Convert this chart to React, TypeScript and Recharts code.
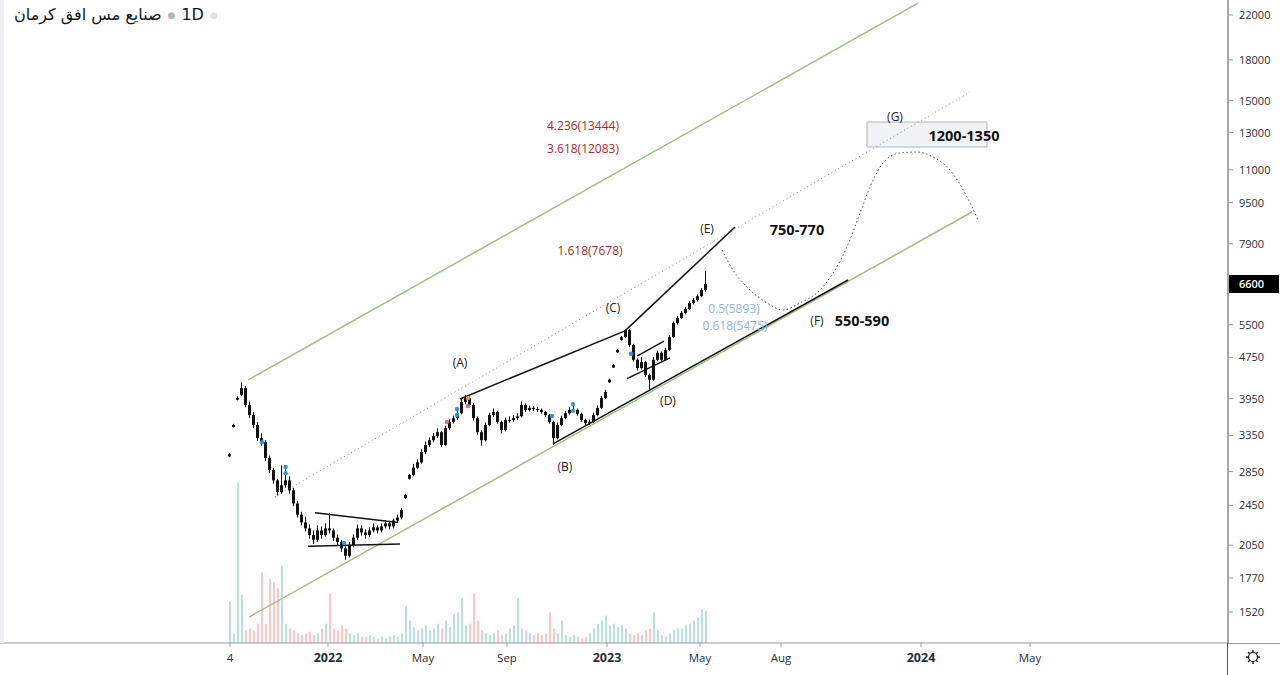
import React from 'react';
import {
  Bar,
  ComposedChart,
  Line,
  ReferenceArea,
  ReferenceDot,
  ReferenceLine,
  XAxis,
  YAxis,
} from 'recharts';

// daily-ish candles, one slot per candle (slot 0 = Oct 4 2021)
const opens = [
  3050, 3480, 3930, 4020, 4140, 3840, 3670, 3510, 3310, 3250, 3030, 2870, 2740, 2600, 2680, 2740, 2620, 2470, 2350, 2270,
  2210, 2145, 2100, 2190, 2145, 2210, 2190, 2120, 2080, 2020, 1955, 2050, 2120, 2210, 2170, 2145, 2190, 2220, 2190, 2230,
  2260, 2230, 2290, 2320, 2530, 2760, 2806, 2900, 2970, 3110, 3210, 3280, 3340, 3400, 3210, 3460, 3560, 3620, 3700, 3890,
  3960, 3840, 3620, 3400, 3280, 3510, 3670, 3720, 3560, 3430, 3590, 3590, 3620, 3650, 3840, 3755, 3790, 3770, 3755, 3720,
  3670, 3560, 3310, 3510, 3620, 3700, 3755, 3755, 3690, 3590, 3540, 3560, 3670, 3790, 3960, 4250, 4540, 4860, 5140, 5200,
  5370, 5020, 4700, 4530, 4650, 4390, 4300, 4700, 4850, 4700, 4910, 5200, 5540, 5670, 5800, 5900, 6060, 6140, 6250, 6420,
];
const highs = [
  3100, 3530, 3990, 4250, 4180, 3900, 3720, 3560, 3380, 3280, 3060, 2900, 2760, 2930, 2880, 2790, 2650, 2500, 2380, 2330,
  2250, 2190, 2240, 2230, 2260, 2370, 2210, 2150, 2100, 2040, 2080, 2150, 2250, 2240, 2200, 2220, 2260, 2240, 2260, 2290,
  2280, 2310, 2350, 2420, 2580, 2820, 2950, 3010, 3150, 3260, 3320, 3390, 3460, 3420, 3500, 3600, 3660, 3740, 3940, 4020,
  3990, 3870, 3650, 3430, 3550, 3710, 3780, 3740, 3580, 3630, 3650, 3670, 3700, 3900, 3870, 3830, 3820, 3800, 3780, 3740,
  3690, 3580, 3550, 3660, 3740, 3800, 3880, 3780, 3710, 3610, 3600, 3710, 3830, 4000, 4110, 4320, 4610, 4930, 5230, 5400,
  5390, 5050, 4730, 4760, 4680, 4420, 4760, 4900, 4880, 4960, 5250, 5580, 5720, 5850, 5960, 6110, 6200, 6300, 6480, 7000,
];
const lows = [
  3040, 3470, 3920, 4000, 3800, 3620, 3460, 3270, 3200, 2990, 2830, 2700, 2560, 2580, 2650, 2580, 2440, 2320, 2240, 2180,
  2110, 2060, 2080, 2110, 2130, 2160, 2090, 2050, 1990, 1920, 1940, 2030, 2100, 2140, 2110, 2130, 2170, 2160, 2170, 2210,
  2200, 2210, 2270, 2300, 2520, 2750, 2790, 2880, 2950, 3080, 3180, 3250, 3310, 3180, 3200, 3430, 3530, 3590, 3680, 3850,
  3800, 3580, 3360, 3200, 3260, 3490, 3640, 3530, 3380, 3410, 3550, 3560, 3590, 3630, 3720, 3730, 3740, 3720, 3690, 3640,
  3530, 3210, 3290, 3490, 3600, 3680, 3720, 3660, 3560, 3500, 3510, 3540, 3650, 3770, 3940, 4240, 4530, 4850, 5120, 5180,
  4980, 4660, 4480, 4500, 4350, 4120, 4280, 4670, 4660, 4680, 4890, 5180, 5500, 5640, 5760, 5870, 6020, 6100, 6220, 6380,
];
const closes = [
  3080, 3510, 3960, 4140, 3840, 3670, 3510, 3310, 3250, 3030, 2870, 2740, 2600, 2680, 2740, 2620, 2470, 2350, 2270, 2210,
  2145, 2100, 2190, 2145, 2210, 2190, 2120, 2080, 2020, 1955, 2050, 2120, 2210, 2170, 2145, 2190, 2220, 2190, 2230, 2260,
  2230, 2290, 2320, 2400, 2565, 2806, 2900, 2970, 3110, 3210, 3280, 3340, 3400, 3210, 3460, 3560, 3620, 3700, 3890, 3960,
  3840, 3620, 3400, 3280, 3510, 3670, 3720, 3560, 3430, 3590, 3590, 3620, 3650, 3840, 3755, 3790, 3770, 3755, 3720, 3670,
  3560, 3310, 3510, 3620, 3700, 3755, 3755, 3690, 3590, 3540, 3560, 3670, 3790, 3960, 4070, 4300, 4590, 4910, 5200, 5370,
  5020, 4700, 4530, 4650, 4390, 4300, 4700, 4850, 4700, 4910, 5200, 5540, 5670, 5800, 5900, 6060, 6140, 6250, 6420, 6600,
];
const volumes = [
  26, 6, 100, 30, 8, 9, 8, 12, 44, 12, 40, 38, 34, 48, 12, 9, 8, 6, 5, 6,
  7, 5, 6, 9, 12, 31, 9, 8, 11, 9, 6, 5, 6, 4, 4, 5, 4, 3, 4, 3,
  4, 5, 4, 6, 23, 14, 10, 8, 9, 11, 8, 9, 12, 9, 14, 10, 18, 19, 28, 11,
  12, 31, 14, 8, 6, 5, 6, 8, 5, 6, 9, 11, 28, 9, 8, 6, 5, 6, 5, 6,
  19, 9, 6, 14, 5, 4, 5, 4, 3, 4, 6, 9, 12, 14, 17, 11, 12, 10, 11, 9,
  6, 5, 6, 5, 8, 9, 19, 8, 5, 4, 6, 8, 9, 9, 11, 12, 14, 16, 21, 20,
];

const priceTicks = [1520, 1770, 2050, 2450, 2850, 3350, 3950, 4750, 5500, 6600, 7900, 9500, 11000, 13000, 15000, 18000, 22000];
const lastPrice = 6600;

const timeTickPos = [0, 24.5, 48.25, 69.25, 94.25, 117.5, 137.75, 172.75, 200];
const timeTickLabels = ['4', '2022', 'May', 'Sep', '2023', 'May', 'Aug', '2024', 'May'];

// projected path after (E): down to (F), up to (G), then down
const pathSlots = [123, 125.75, 130, 134.25, 138.25, 142.5, 147.5, 150.75, 154.25, 157.5, 160, 163.25, 167.5, 171.75, 175.75, 180, 184.25, 187];
const pathPrices = [7685, 7026, 6424, 6062, 5874, 6062, 6424, 6932, 7788, 9066, 10187, 11343, 11862, 11915, 11651, 10991, 9742, 8789];

const fibLevels = [
  { s: 88.25, p: 13385, text: '4.236(13444)', color: '#b42a2a' },
  { s: 88.25, p: 12074, text: '3.618(12083)', color: '#b42a2a' },
  { s: 90, p: 7650, text: '1.618(7678)', color: '#b42a2a' },
  { s: 126, p: 5901, text: '0.5(5893)', color: '#93b6dc' },
  { s: 126.25, p: 5469, text: '0.618(5475)', color: '#93b6dc' },
];
const waveLabels = [
  { s: 57.5, p: 4633, text: '(A)' },
  { s: 83.75, p: 2910, text: '(B)' },
  { s: 95.75, p: 5927, text: '(C)' },
  { s: 109.5, p: 3907, text: '(D)' },
  { s: 119.25, p: 8442, text: '(E)' },
  { s: 146.75, p: 5592, text: '(F)' },
  { s: 166.25, p: 13937, text: '(G)' },
];
const targetLabels = [
  { s: 141.75, p: 8404, text: '750-770' },
  { s: 158, p: 5592, text: '550-590' },
  { s: 183.5, p: 12800, text: '1200-1350' },
];
const markers = [
  { s: 8, p: 3250, color: '#2f95e0' },
  { s: 13.9, p: 2910, color: '#2f95e0' },
  { s: 13.9, p: 2830, color: '#2f95e0' },
  { s: 28.5, p: 2070, color: '#2f95e0' },
  { s: 54.25, p: 3560, color: '#e07070' },
  { s: 56.75, p: 3770, color: '#2f95e0' },
  { s: 56.75, p: 3672, color: '#2f95e0' },
  { s: 59.5, p: 3960, color: '#f0a030' },
  { s: 59.5, p: 3820, color: '#e07070' },
  { s: 80.5, p: 3655, color: '#2f95e0' },
  { s: 85.75, p: 3855, color: '#2f95e0' },
  { s: 85.75, p: 3740, color: '#2f95e0' },
  { s: 100.25, p: 4830, color: '#2f95e0' },
];

type Seg = { x1: number; y1: number; x2: number; y2: number };
const channelLines: Seg[] = [
  { x1: 4.5, y1: 4295, x2: 172, y2: 23200 },
  { x1: 4.75, y1: 1486, x2: 185.5, y2: 9110 },
];
const midLine: Seg = { x1: 11.25, y1: 2543, x2: 185, y2: 15585 };
const trendLines: Seg[] = [
  { x1: 57.5, y1: 3945, x2: 98.75, y2: 5350 },
  { x1: 98.75, y1: 5350, x2: 126.25, y2: 8515 },
  { x1: 80.75, y1: 3225, x2: 154.5, y2: 6718 },
  { x1: 21.25, y1: 2370, x2: 42, y2: 2270 },
  { x1: 19.5, y1: 2040, x2: 42.5, y2: 2060 },
  { x1: 101.75, y1: 4780, x2: 108.5, y2: 5110 },
  { x1: 99.25, y1: 4320, x2: 110, y2: 4740 },
];

const rows = closes.map((c, i) => ({
  s: i,
  o: opens[i],
  h: highs[i],
  l: lows[i],
  c,
  v: volumes[i],
  range: [lows[i], highs[i]],
}));
const pathData = pathSlots.map((s, i) => ({ s, p: pathPrices[i] }));

const FONT = '"Open Sans", "DejaVu Sans", sans-serif';

function Candle(props: any) {
  const { x, y, width, height, payload } = props;
  const { o, h, l, c } = payload;
  const span = Math.log(h) - Math.log(l) || 1;
  const py = (v: number) => y + ((Math.log(h) - Math.log(v)) / span) * height;
  const cx = x + width / 2;
  const top = py(Math.max(o, c));
  const bot = py(Math.min(o, c));
  return (
    <g>
      <line x1={cx} x2={cx} y1={y} y2={y + height} stroke="#111" strokeWidth={1} />
      <rect x={x} y={top} width={width} height={Math.max(1, bot - top)} fill="#111" />
    </g>
  );
}

function VolumeBar(props: any) {
  const { x, y, width, height, payload } = props;
  const up = payload.c >= payload.o;
  return <rect x={x} y={y} width={width} height={height} fill={up ? 'rgba(38,166,154,0.32)' : 'rgba(239,83,80,0.32)'} />;
}

function TimeTick(props: any) {
  const { x, y, payload } = props;
  const i = timeTickPos.indexOf(payload.value);
  const label = timeTickLabels[i] ?? '';
  const year = /^\d{4}$/.test(label);
  return (
    <text x={x} y={y + 13} textAnchor="middle" fontSize={year ? 12.5 : 11.5} fontWeight={year ? 700 : 400} fill="#2a2e39">
      {label}
    </text>
  );
}

function PriceTick(props: any) {
  const { x, y, payload } = props;
  if (payload.value === lastPrice) {
    return (
      <g>
        <rect x={x - 10} y={y - 9} width={50} height={18} fill="#000" />
        <text x={x} y={y + 4} fontSize={11} fontWeight={600} fill="#fff">
          {payload.value}
        </text>
      </g>
    );
  }
  return (
    <text x={x} y={y + 4} fontSize={11} fill="#2a2e39">
      {payload.value}
    </text>
  );
}

function Gear() {
  const rays = [0, 45, 90, 135, 180, 225, 270, 315];
  return (
    <svg width={18} height={18} style={{ position: 'absolute', left: 1244, top: 648 }}>
      <circle cx={9} cy={9} r={4.5} fill="none" stroke="#131722" strokeWidth={1.2} />
      {rays.map((a) => {
        const r = (a * Math.PI) / 180;
        return (
          <line key={a} x1={9 + Math.cos(r) * 4.5} y1={9 + Math.sin(r) * 4.5} x2={9 + Math.cos(r) * 7} y2={9 + Math.sin(r) * 7} stroke="#131722" strokeWidth={1.4} />
        );
      })}
    </svg>
  );
}

export default function App() {
  return (
    <div style={{ position: 'absolute', left: 0, top: 0, width: 1280, height: 675, background: '#fff', fontFamily: FONT, overflow: 'hidden' }}>
      <ComposedChart width={1280} height={675} data={rows} margin={{ top: 0, right: 0, bottom: 0, left: 0 }}>
        <XAxis
          xAxisId="t"
          dataKey="s"
          type="number"
          domain={[-57.5, 249.5]}
          allowDataOverflow
          ticks={timeTickPos}
          interval={0}
          height={32}
          tick={<TimeTick />}
          tickSize={4}
          tickMargin={2}
          stroke="#9598a1"
          tickLine={{ stroke: '#9598a1' }}
        />
        <XAxis xAxisId="tv" dataKey="s" type="number" domain={[-57.5, 249.5]} allowDataOverflow hide />
        <YAxis
          yAxisId="price"
          orientation="right"
          scale="log"
          domain={[1323, 23530]}
          allowDataOverflow
          ticks={priceTicks}
          interval={0}
          width={52}
          tick={<PriceTick />}
          tickSize={5}
          tickMargin={6}
          stroke="#4c525e"
          tickLine={{ stroke: '#9598a1' }}
        />
        <YAxis yAxisId="vol" domain={[0, 400]} hide />

        <Bar xAxisId="tv" yAxisId="vol" dataKey="v" barSize={2} shape={<VolumeBar />} isAnimationActive={false} />
        <Bar xAxisId="t" yAxisId="price" dataKey="range" barSize={3} shape={<Candle />} isAnimationActive={false} />

        <ReferenceArea
          xAxisId="t"
          yAxisId="price"
          x1={159.25}
          x2={189.25}
          y1={12186}
          y2={13627}
          fill="#f0f2f5"
          fillOpacity={1}
          stroke="#b3b7bf"
          ifOverflow="visible"
        />

        {channelLines.map((l, i) => (
          <ReferenceLine
            key={'ch' + i}
            xAxisId="t"
            yAxisId="price"
            segment={[{ x: l.x1, y: l.y1 }, { x: l.x2, y: l.y2 }]}
            stroke="#9dc183"
            strokeWidth={1.5}
            ifOverflow="visible"
          />
        ))}
        <ReferenceLine
          xAxisId="t"
          yAxisId="price"
          segment={[{ x: midLine.x1, y: midLine.y1 }, { x: midLine.x2, y: midLine.y2 }]}
          stroke="#8a8a8a"
          strokeWidth={1}
          strokeDasharray="1 3"
          ifOverflow="visible"
        />
        {trendLines.map((l, i) => (
          <ReferenceLine
            key={'tr' + i}
            xAxisId="t"
            yAxisId="price"
            segment={[{ x: l.x1, y: l.y1 }, { x: l.x2, y: l.y2 }]}
            stroke="#111"
            strokeWidth={1.5}
            ifOverflow="visible"
          />
        ))}

        <Line
          xAxisId="t"
          yAxisId="price"
          data={pathData}
          dataKey="p"
          type="monotone"
          dot={false}
          stroke="#555"
          strokeWidth={1}
          strokeDasharray="1.5 2.5"
          isAnimationActive={false}
        />

        {markers.map((m, i) => (
          <ReferenceDot key={'mk' + i} xAxisId="t" yAxisId="price" x={m.s} y={m.p} r={2.2} fill={m.color} stroke="none" ifOverflow="visible" />
        ))}

        {fibLevels.map((f, i) => (
          <ReferenceDot
            key={'fb' + i}
            xAxisId="t"
            yAxisId="price"
            x={f.s}
            y={f.p}
            r={0}
            fill="none"
            stroke="none"
            ifOverflow="visible"
            label={{ value: f.text, position: 'center', fill: f.color, fontSize: 12 }}
          />
        ))}
        {waveLabels.map((w, i) => (
          <ReferenceDot
            key={'wv' + i}
            xAxisId="t"
            yAxisId="price"
            x={w.s}
            y={w.p}
            r={0}
            fill="none"
            stroke="none"
            ifOverflow="visible"
            label={{ value: w.text, position: 'center', fill: '#222', fontSize: 12 }}
          />
        ))}
        {targetLabels.map((t, i) => (
          <ReferenceDot
            key={'tg' + i}
            xAxisId="t"
            yAxisId="price"
            x={t.s}
            y={t.p}
            r={0}
            fill="none"
            stroke="none"
            ifOverflow="visible"
            label={{ value: t.text, position: 'center', fill: '#111', fontSize: 14.5, fontWeight: 700 }}
          />
        ))}
      </ComposedChart>

      <div style={{ position: 'absolute', left: 1228, top: 643, width: 52, height: 1, background: '#9598a1' }} />
      <div style={{ position: 'absolute', left: 1227, top: 643, width: 1, height: 32, background: '#4c525e' }} />
      <div style={{ position: 'absolute', left: 0, top: 0, width: 4, height: 643, background: '#eef0f4' }} />
      <div
        style={{
          position: 'absolute',
          left: 14,
          top: 5,
          fontSize: 16,
          color: '#131722',
          fontFamily: '"DejaVu Sans", sans-serif',
          background: '#fff',
          display: 'flex',
          alignItems: 'center',
          gap: 6,
        }}
      >
        <span dir="rtl">صنایع مس افق کرمان</span>
        <span style={{ color: '#b2b5be', fontSize: 9 }}>●</span>
        <span>1D</span>
        <span style={{ color: '#e0e3eb', fontSize: 9 }}>●</span>
      </div>
      <Gear />
    </div>
  );
}
